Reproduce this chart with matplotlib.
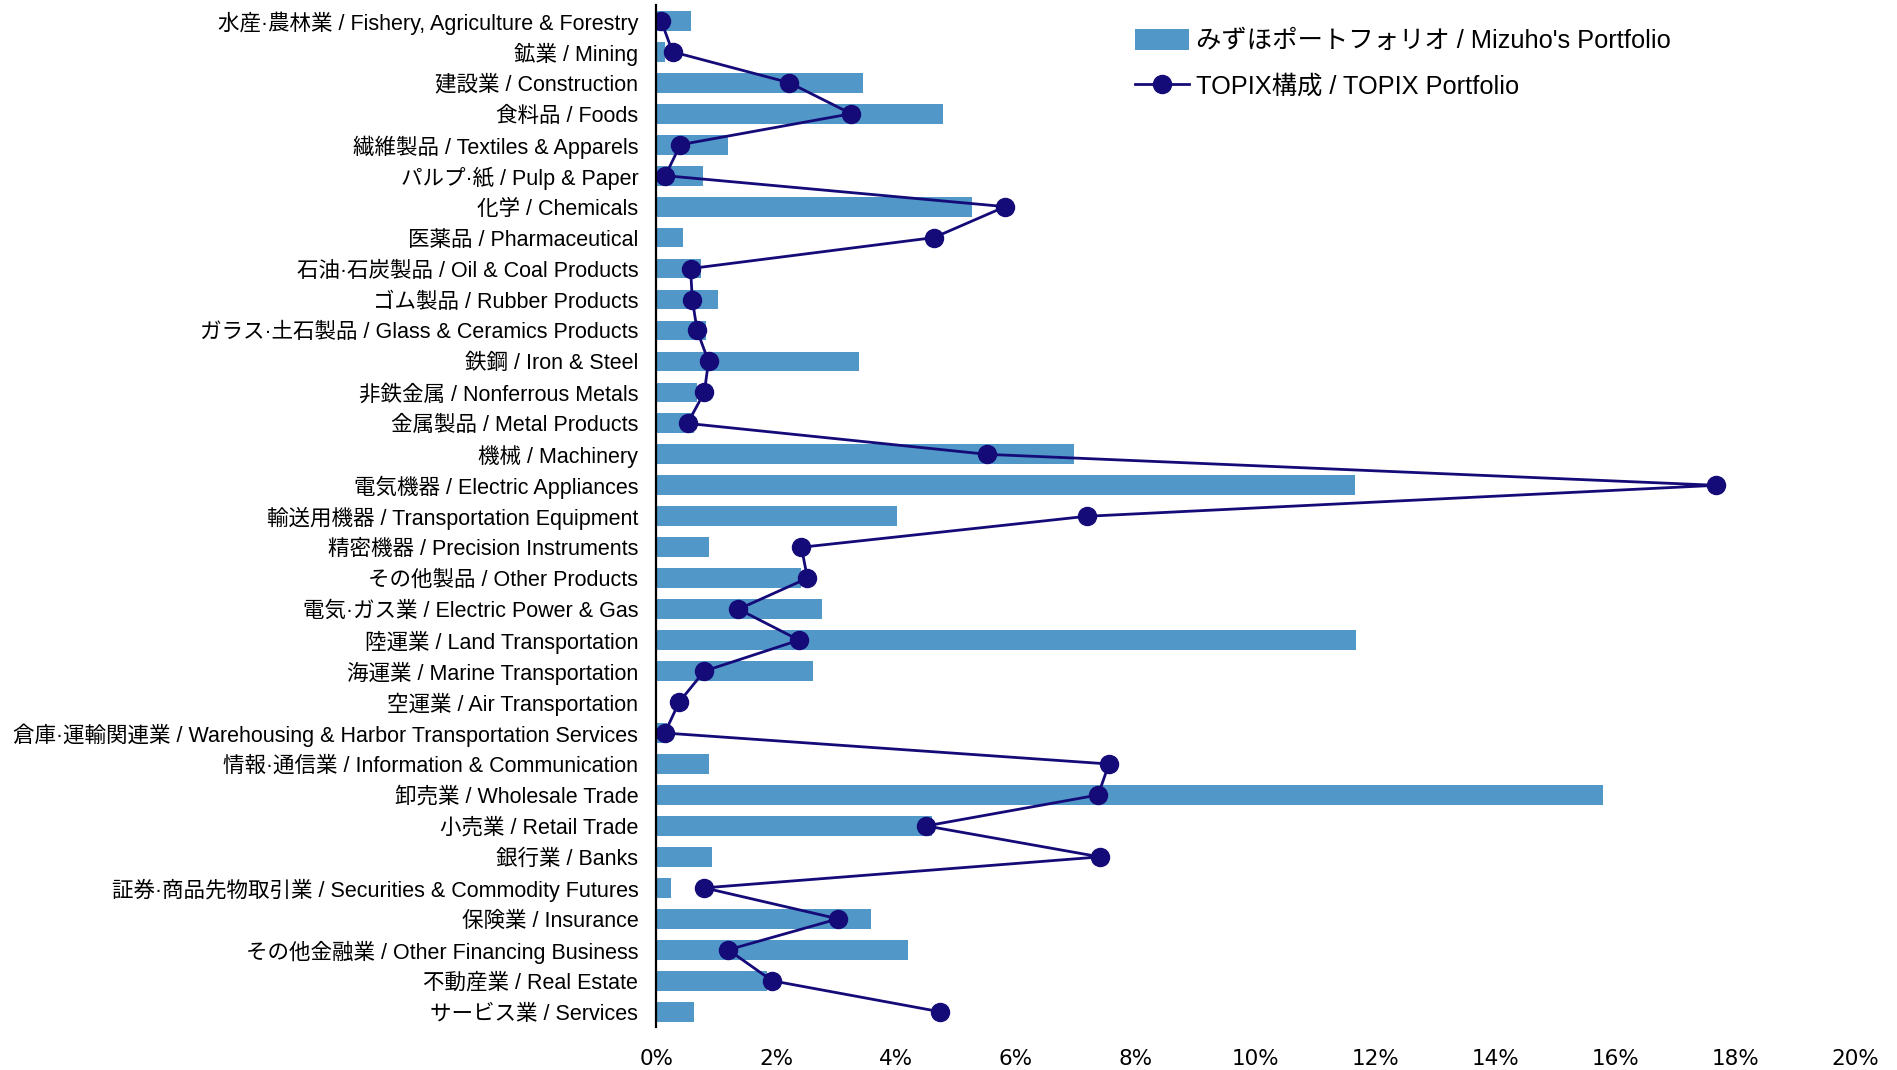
import matplotlib
matplotlib.use('Agg')
import matplotlib.pyplot as plt
from matplotlib.ticker import FuncFormatter

# フォント設定 (ラテン文字は Liberation Sans, 日本語は Noto Sans CJK JP)
plt.rcParams['font.family'] = ['Liberation Sans', 'Noto Sans CJK JP', 'DejaVu Sans']

# 業種 (上から順)
sectors = [
    '水産·農林業 / Fishery, Agriculture & Forestry',
    '鉱業 / Mining',
    '建設業 / Construction',
    '食料品 / Foods',
    '繊維製品 / Textiles & Apparels',
    'パルプ·紙 / Pulp & Paper',
    '化学 / Chemicals',
    '医薬品 / Pharmaceutical',
    '石油·石炭製品 / Oil & Coal Products',
    'ゴム製品 / Rubber Products',
    'ガラス·土石製品 / Glass & Ceramics Products',
    '鉄鋼 / Iron & Steel',
    '非鉄金属 / Nonferrous Metals',
    '金属製品 / Metal Products',
    '機械 / Machinery',
    '電気機器 / Electric Appliances',
    '輸送用機器 / Transportation Equipment',
    '精密機器 / Precision Instruments',
    'その他製品 / Other Products',
    '電気·ガス業 / Electric Power & Gas',
    '陸運業 / Land Transportation',
    '海運業 / Marine Transportation',
    '空運業 / Air Transportation',
    '倉庫·運輸関連業 / Warehousing & Harbor Transportation Services',
    '情報·通信業 / Information & Communication',
    '卸売業 / Wholesale Trade',
    '小売業 / Retail Trade',
    '銀行業 / Banks',
    '証券·商品先物取引業 / Securities & Commodity Futures',
    '保険業 / Insurance',
    'その他金融業 / Other Financing Business',
    '不動産業 / Real Estate',
    'サービス業 / Services',
]

# みずほポートフォリオ (%)
mizuho = [0.57, 0.15, 3.45, 4.79, 1.20, 0.77, 5.27, 0.45, 0.75, 1.02, 0.82,
          3.38, 0.67, 0.62, 6.97, 11.65, 4.02, 0.88, 2.42, 2.77, 11.67, 2.62,
          0.0, 0.17, 0.87, 15.80, 4.60, 0.93, 0.25, 3.58, 4.20, 1.85, 0.63]

# TOPIX構成 (%)
topix = [0.08, 0.27, 2.22, 3.25, 0.40, 0.15, 5.82, 4.63, 0.57, 0.60, 0.68,
         0.87, 0.80, 0.52, 5.52, 17.68, 7.18, 2.42, 2.52, 1.37, 2.38, 0.80,
         0.38, 0.14, 7.55, 7.37, 4.50, 7.40, 0.80, 3.03, 1.20, 1.93, 4.73]

x_ticks = [0, 2, 4, 6, 8, 10, 12, 14, 16, 18, 20]

bar_color = '#5197C8'
line_color = '#140A78'

fig = plt.figure(figsize=(18.97, 10.70), dpi=100)
ax = fig.add_axes([0.346, 0.040, 0.632, 0.955])

pos = list(range(len(sectors)))
bars = ax.barh(pos, mizuho, height=0.64, color=bar_color, zorder=2,
               label="みずほポートフォリオ / Mizuho's Portfolio")
line, = ax.plot(topix, pos, color=line_color, linewidth=2.0, marker='o',
                markersize=13, zorder=3, label='TOPIX構成 / TOPIX Portfolio')

ax.set_xlim(0, 20)
ax.set_ylim(len(sectors) - 0.5, -0.5)
ax.set_yticks(pos)
ax.set_yticklabels(sectors, fontsize=15.5)
ax.set_xticks(x_ticks)
ax.xaxis.set_major_formatter(FuncFormatter(lambda v, p: '%d%%' % v))
for lbl in ax.get_xticklabels():
    lbl.set_family('DejaVu Sans')
    lbl.set_fontsize(15.5)
ax.tick_params(axis='y', length=0, pad=13)
ax.tick_params(axis='x', length=0, pad=16)

for s in ['top', 'right', 'bottom']:
    ax.spines[s].set_visible(False)
ax.spines['left'].set_linewidth(1.6)
ax.spines['left'].set_color('black')
ax.spines['left'].set_zorder(4)

# 凡例 (棒 → 折れ線の順)
ax.legend([bars, line], [bars.get_label(), line.get_label()],
          loc='upper left', bbox_to_anchor=(0.5985, 0.973),
          bbox_transform=fig.transFigure, frameon=False, fontsize=18.3,
          handlelength=2.1, handleheight=0.9, handletextpad=0.3,
          labelspacing=0.85, borderpad=0, borderaxespad=0)

plt.savefig('out.png', dpi=100)
plt.close()
